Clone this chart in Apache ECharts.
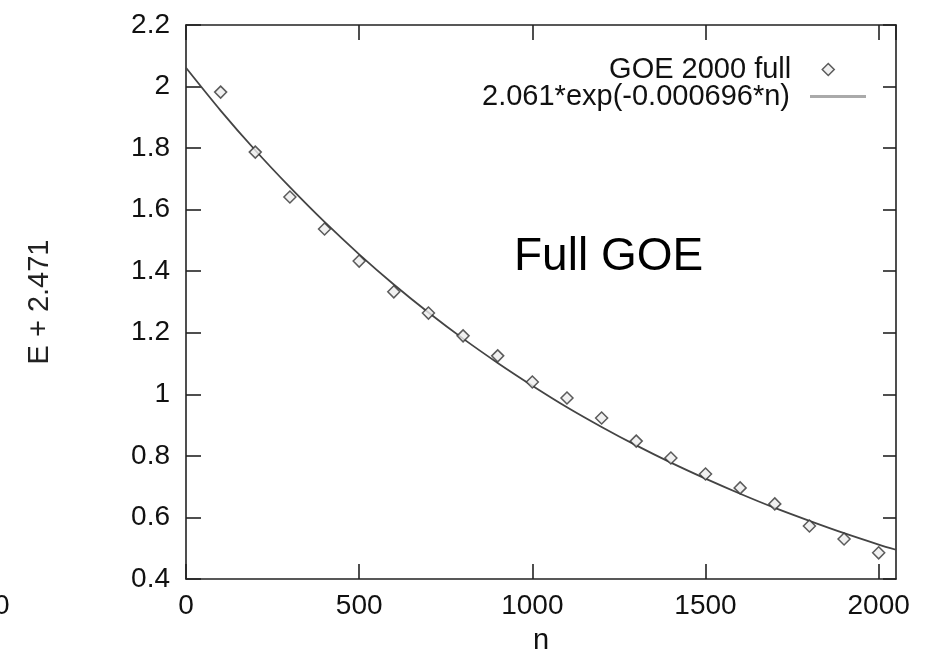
<!DOCTYPE html>
<html>
<head>
<meta charset="utf-8">
<title>Full GOE</title>
<script src="https://cdn.jsdelivr.net/npm/echarts@6/dist/echarts.min.js"></script>
<style>
  html, body { margin: 0; padding: 0; background: #fff; }
  #chart { width: 927px; height: 654px; }
</style>
</head>
<body>
<div id="chart"></div>
<script>
// Ground-state energy (shifted by 2.471) versus n for the full GOE run
const sampleN = [100, 200, 300, 400, 500, 600, 700, 800, 900, 1000,
                 1100, 1200, 1300, 1400, 1500, 1600, 1700, 1800, 1900, 2000];
const sampleE = [1.982, 1.787, 1.641, 1.537, 1.433, 1.333, 1.264, 1.190, 1.125, 1.040,
                 0.988, 0.923, 0.848, 0.793, 0.741, 0.696, 0.644, 0.572, 0.530, 0.485];

// Exponential fit curve, sampled along n
const fitN = [0, 100, 200, 300, 400, 500, 600, 700, 800, 900, 1000,
              1100, 1200, 1300, 1400, 1500, 1600, 1700, 1800, 1900, 2000, 2050];
const fitE = [2.061, 1.922, 1.793, 1.673, 1.560, 1.455, 1.357, 1.266, 1.181, 1.102, 1.028,
              0.958, 0.894, 0.834, 0.778, 0.726, 0.677, 0.631, 0.589, 0.549, 0.512, 0.495];

const seriesNames = ['GOE 2000 full', '2.061*exp(-0.000696*n)'];
const xTicks = { min: 0, max: 2050, step: 500 };
const yTicks = { min: 0.4, max: 2.2, step: 0.2 };

const FONT = 'Liberation Sans, Arial, sans-serif';
const INK = '#111';

const chart = echarts.init(document.getElementById('chart'), null, { renderer: 'canvas' });

const frameLine = { onZero: false, lineStyle: { color: '#222', width: 1.6 } };
const inTicks = (len) => ({ inside: true, length: len, lineStyle: { color: '#222', width: 1.6 } });
const plainNumber = (v) => String(Math.round(v * 1000) / 1000);

const legendText = (padRight) => ({
  fontFamily: FONT, fontSize: 29, color: INK, lineHeight: 29, padding: [0, padRight, 0, 0]
});

chart.setOption({
  backgroundColor: '#fff',
  animation: false,
  grid: { left: 186, right: 31, top: 25, bottom: 75, containLabel: false, outerBoundsMode: 'none' },
  legend: [
    {
      right: 87, top: 50, align: 'right', selectedMode: false,
      itemWidth: 12, itemHeight: 12,
      textStyle: legendText(26),
      data: [{ name: seriesNames[0], icon: 'diamond',
               itemStyle: { color: '#eee', borderColor: '#333', borderWidth: 1.5 } }]
    },
    {
      right: 56, top: 77, align: 'right', selectedMode: false,
      itemWidth: 56, itemHeight: 3,
      textStyle: legendText(15),
      data: [{ name: seriesNames[1], icon: 'rect',
               itemStyle: { color: '#aaa', borderWidth: 0 } }]
    }
  ],
  xAxis: [
    {
      type: 'value', position: 'bottom',
      min: xTicks.min, max: xTicks.max, interval: xTicks.step,
      name: 'n', nameLocation: 'middle', nameGap: 47,
      nameTextStyle: { fontFamily: FONT, fontSize: 29, color: INK },
      axisLine: frameLine, axisTick: inTicks(15),
      axisLabel: { fontFamily: FONT, fontSize: 28, color: INK, margin: 13,
                   showMaxLabel: false, formatter: plainNumber },
      splitLine: { show: false }
    },
    {
      type: 'value', position: 'top',
      min: xTicks.min, max: xTicks.max, interval: xTicks.step,
      axisLine: frameLine, axisTick: inTicks(15),
      axisLabel: { show: false }, splitLine: { show: false }
    }
  ],
  yAxis: [
    {
      type: 'value', position: 'left',
      min: yTicks.min, max: yTicks.max, interval: yTicks.step,
      name: 'E + 2.471', nameLocation: 'middle', nameGap: 132,
      nameTextStyle: { fontFamily: FONT, fontSize: 29, color: '#222' },
      axisLine: frameLine, axisTick: inTicks(15),
      axisLabel: { fontFamily: FONT, fontSize: 28, color: INK, margin: 16,
                   formatter: plainNumber },
      splitLine: { show: false }
    },
    {
      type: 'value', position: 'right',
      min: yTicks.min, max: yTicks.max, interval: yTicks.step,
      axisLine: frameLine, axisTick: inTicks(13),
      axisLabel: { show: false }, splitLine: { show: false }
    }
  ],
  graphic: [
    {
      type: 'text', left: 514, top: 234, silent: true,
      style: { text: 'Full GOE', font: '46px ' + FONT, fill: '#000' }
    },
    {
      type: 'text', left: -6, top: 592, silent: true,
      style: { text: '0', font: '28px ' + FONT, fill: INK }
    }
  ],
  series: [
    {
      name: seriesNames[1],
      type: 'line',
      xAxisIndex: 0, yAxisIndex: 0,
      data: fitN.map((n, i) => [n, fitE[i]]),
      symbol: 'none',
      smooth: 0.3,
      lineStyle: { color: '#444', width: 1.8 },
      z: 2
    },
    {
      name: seriesNames[0],
      type: 'scatter',
      xAxisIndex: 0, yAxisIndex: 0,
      data: sampleN.map((n, i) => [n, sampleE[i]]),
      symbol: 'diamond',
      symbolSize: 12,
      itemStyle: { color: '#eee', borderColor: '#333', borderWidth: 1.5 },
      z: 3
    }
  ]
});
</script>
</body>
</html>
